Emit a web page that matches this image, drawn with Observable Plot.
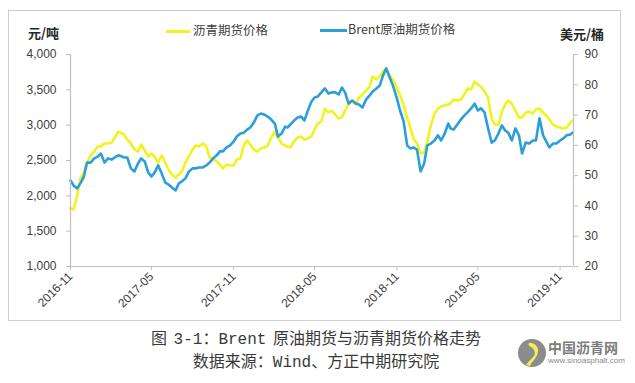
<!DOCTYPE html>
<html>
<head>
<meta charset="utf-8">
<script src="https://cdn.jsdelivr.net/npm/d3@7"></script>
<script src="https://cdn.jsdelivr.net/npm/@observablehq/plot@0.6"></script>
<style>
  html, body { margin: 0; padding: 0; background: #fff; }
  #wrap { position: relative; width: 635px; height: 383px; overflow: hidden; font-family: "Noto Sans CJK SC", sans-serif; }
  #chart { position: absolute; left: 8px; top: 10px; }
  #frame { position: absolute; left: 8px; top: 10px; width: 613px; height: 311px; box-sizing: border-box; border: 1px solid #cfcfcf; pointer-events: none; }
  .abs { position: absolute; white-space: nowrap; line-height: 1; }
  .unit { font-size: 13px; font-weight: bold; color: #262626; }
  .leg { font-size: 12.5px; color: #404040; }
  .sw { position: absolute; height: 3px; }
  .cap { position: absolute; left: 0; width: 632px; text-align: center; font-size: 16px; color: #3a3a3a; line-height: 1;
         font-family: "Liberation Mono", "Noto Sans CJK SC", monospace; }
  .cap .sp { letter-spacing: -3px; }
</style>
</head>
<body>
<div id="wrap">
  <div id="chart"></div>
  <div id="frame"></div>
  <div class="abs unit" style="left:28px;top:26px;">元/吨</div>
  <div class="abs unit" style="left:560px;top:27px;">美元/桶</div>
  <div class="sw" style="left:166px;top:30px;width:24px;background:#f2f21e;"></div>
  <div class="abs leg" style="left:193px;top:24px;">沥青期货价格</div>
  <div class="sw" style="left:320px;top:29px;width:27px;background:#2b9fd9;"></div>
  <div class="abs leg" style="left:348px;top:23px;">Brent原油期货价格</div>
  <div class="cap" style="top:332px;">图<span class="sp"> </span>3-1：Brent<span class="sp"> </span>原油期货与沥青期货价格走势</div>
  <div class="cap" style="top:355px;">数据来源：Wind、方正中期研究院</div>
  <svg class="abs" style="left:517px;top:338px;" width="30" height="30" viewBox="0 0 30 30">
    <circle cx="15" cy="15" r="14" fill="#8c8c8c"/>
    <path d="M9 27 C 14 20, 20 18, 17 12 C 15 8, 10 9, 12 5 C 16 4, 22 8, 21 14 C 20 20, 15 23, 13 28 Z" fill="#f2ee5a"/>
  </svg>
  <div class="abs" style="left:548px;top:340px;font-size:14px;font-weight:bold;color:#7d7d7d;">中国沥青网</div>
  <div class="abs" style="left:548px;top:357px;font-size:8px;color:#8a8a8a;font-family:'Liberation Sans',sans-serif;">www.sinoasphalt.com</div>
</div>
<script>
// ---- data ----
const dates = [
  "2016-11-01","2016-11-08","2016-11-16","2016-11-24",
  "2016-12-01","2016-12-08","2016-12-16","2016-12-24",
  "2017-01-01","2017-01-08","2017-01-16","2017-01-24",
  "2017-02-01","2017-02-08","2017-02-16","2017-02-24",
  "2017-03-01","2017-03-08","2017-03-16","2017-03-24",
  "2017-04-01","2017-04-08","2017-04-16","2017-04-24",
  "2017-05-01","2017-05-08","2017-05-16","2017-05-24",
  "2017-06-01","2017-06-08","2017-06-16","2017-06-24",
  "2017-07-01","2017-07-08","2017-07-16","2017-07-24",
  "2017-08-01","2017-08-08","2017-08-16","2017-08-24",
  "2017-09-01","2017-09-08","2017-09-16","2017-09-24",
  "2017-10-01","2017-10-08","2017-10-16","2017-10-24",
  "2017-11-01","2017-11-08","2017-11-16","2017-11-24",
  "2017-12-01","2017-12-08","2017-12-16","2017-12-24",
  "2018-01-01","2018-01-08","2018-01-16","2018-01-24",
  "2018-02-01","2018-02-08","2018-02-16","2018-02-24",
  "2018-03-01","2018-03-08","2018-03-16","2018-03-24",
  "2018-04-01","2018-04-08","2018-04-16","2018-04-24",
  "2018-05-01","2018-05-08","2018-05-16","2018-05-24",
  "2018-06-01","2018-06-08","2018-06-16","2018-06-24",
  "2018-07-01","2018-07-08","2018-07-16","2018-07-24",
  "2018-08-01","2018-08-08","2018-08-16","2018-08-24",
  "2018-09-01","2018-09-08","2018-09-16","2018-09-24",
  "2018-10-01","2018-10-08","2018-10-16","2018-10-24",
  "2018-11-01","2018-11-08","2018-11-16","2018-11-24",
  "2018-12-01","2018-12-08","2018-12-16","2018-12-24",
  "2019-01-01","2019-01-08","2019-01-16","2019-01-24",
  "2019-02-01","2019-02-08","2019-02-16","2019-02-24",
  "2019-03-01","2019-03-08","2019-03-16","2019-03-24",
  "2019-04-01","2019-04-08","2019-04-16","2019-04-24",
  "2019-05-01","2019-05-08","2019-05-16","2019-05-24",
  "2019-06-01","2019-06-08","2019-06-16","2019-06-24",
  "2019-07-01","2019-07-08","2019-07-16","2019-07-24",
  "2019-08-01","2019-08-08","2019-08-16","2019-08-24",
  "2019-09-01","2019-09-08","2019-09-16","2019-09-24",
  "2019-10-01","2019-10-08","2019-10-16","2019-10-24",
  "2019-11-01","2019-11-08","2019-11-16","2019-11-24",
  "2019-11-29"
];
// 沥青期货价格 (元/吨)
const asphalt = [
  1821,1807,2005,2259, 2330,2472,2571,2627, 2698,2698,2740,2740, 2755,2825,2910,2882,
  2868,2797,2740,2656, 2627,2726,2641,2557, 2599,2557,2472,2571, 2472,2373,2302,2259,
  2302,2344,2472,2557, 2656,2712,2698,2740, 2698,2542,2528,2486, 2443,2387,2443,2429,
  2429,2514,2528,2726, 2783,2726,2656,2627, 2670,2684,2712,2825, 2910,2825,2740,2712,
  2698,2684,2769,2825, 2840,2797,2811,2840, 2939,3023,3052,3236, 3179,3207,3151,3094,
  3108,3207,3292,3349, 3292,3391,3434,3490, 3547,3689,3646,3689, 3759,3802,3703,3632,
  3533,3420,3292,3108, 2967,2811,2740,2599, 2613,2769,2995,3165, 3236,3264,3278,3292,
  3306,3363,3349,3363, 3434,3519,3505,3618, 3575,3547,3476,3391, 3094,3009,3009,3193,
  3292,3349,3306,3207, 3108,3108,3179,3193, 3165,3222,3236,3179, 3137,3080,3009,2981,
  2967,2953,2967,3038, 3066
];
// Brent原油期货价格 (美元/桶)
const brent = [
  48.4,46.7,45.8,47.7, 49.7,54.3,54.3,55.7, 56.3,57.3,54.3,55.7, 55.3,56.0,56.7,56.3,
  56.0,56.0,52.4,51.4, 54.0,55.7,54.7,51.0, 49.7,51.0,53.4,50.7, 47.7,47.1,46.1,45.1,
  47.4,48.1,49.1,51.4, 52.4,52.4,52.7,52.7, 53.4,54.3,55.7,56.7, 58.0,58.0,59.3,60.0,
  61.3,62.9,63.9,64.2, 65.2,65.9,67.5,69.9, 70.5,70.2,69.5,68.5, 67.2,62.9,63.9,66.2,
  65.9,66.9,68.2,69.2, 69.5,68.2,71.5,74.5, 75.8,76.1,77.5,78.8, 77.1,77.5,77.5,76.8,
  79.1,77.5,73.8,74.8, 73.8,73.5,72.5,75.1, 76.5,77.8,78.8,79.8, 83.1,85.4,82.4,79.4,
  75.5,71.5,67.9,60.0, 59.0,59.3,58.6,51.4, 54.0,60.0,60.6,61.6, 63.3,61.6,63.9,67.2,
  65.6,65.2,66.9,68.5, 69.9,70.9,72.2,73.8, 71.5,72.2,70.9,65.6, 60.9,61.6,63.9,66.6,
  64.9,64.2,61.6,65.6, 63.3,57.3,60.9,60.6, 61.6,61.6,68.9,63.3, 61.3,59.3,60.6,60.6,
  61.6,62.3,63.3,63.6, 64.2
];
const leftTicks = [1000, 1500, 2000, 2500, 3000, 3500, 4000];
const rightTicks = [20, 30, 40, 50, 60, 70, 80, 90];
const xTicks = ["2016-11-01","2017-05-01","2017-11-01","2018-05-01","2018-11-01","2019-05-01","2019-11-01"];
const xDomain = ["2016-11-01", "2019-12-01"];

// ---- build ----
const leftDomain = [1000, 4000];
const rightDomain = [20, 90];
const toLeft = v => leftDomain[0] + (v - rightDomain[0]) * (leftDomain[1] - leftDomain[0]) / (rightDomain[1] - rightDomain[0]);
const fromLeft = v => rightDomain[0] + (v - leftDomain[0]) * (rightDomain[1] - rightDomain[0]) / (leftDomain[1] - leftDomain[0]);

const rows = dates.map((d, i) => ({date: new Date(d), asphalt: asphalt[i], brent: brent[i]}));
const axisGrey = "#bfbfbf";
const textCol = "#404040";

const chart = Plot.plot({
  width: 613,
  height: 311,
  marginLeft: 62,
  marginRight: 48,
  marginTop: 44,
  marginBottom: 55,
  style: {fontFamily: "'Liberation Sans', Arial, sans-serif", fontSize: "12px", color: textCol, background: "transparent"},
  x: {type: "utc", domain: xDomain.map(d => new Date(d))},
  y: {domain: leftDomain},
  marks: [
    Plot.line(rows, {x: "date", y: "asphalt", stroke: "#f2f21e", strokeWidth: 2.6}),
    Plot.line(rows, {x: "date", y: d => toLeft(d.brent), stroke: "#2b9fd9", strokeWidth: 2.6}),
    Plot.ruleX([new Date(xDomain[0])], {stroke: axisGrey, strokeWidth: 1.2}),
    Plot.ruleX([new Date(xDomain[1])], {stroke: axisGrey, strokeWidth: 1.2}),
    Plot.ruleY([leftDomain[0]], {stroke: axisGrey, strokeWidth: 1.2}),
    Plot.axisY(leftTicks, {anchor: "left", tickFormat: d3.format(","), tickSize: 4, tickPadding: 10, stroke: axisGrey, fill: textCol, fontSize: 12, label: null}),
    Plot.axisY(rightTicks.map(toLeft), {anchor: "right", tickFormat: v => String(Math.round(fromLeft(v))), tickSize: 4, tickPadding: 7, stroke: axisGrey, fill: textCol, fontSize: 12, label: null}),
    Plot.axisX(xTicks.map(d => new Date(d)), {anchor: "bottom", tickFormat: d3.utcFormat("%Y-%m"), tickRotate: -45, tickSize: 4, tickPadding: 4, stroke: axisGrey, fill: textCol, fontSize: 12, label: null})
  ]
});
document.getElementById("chart").appendChild(chart);
</script>
</body>
</html>
